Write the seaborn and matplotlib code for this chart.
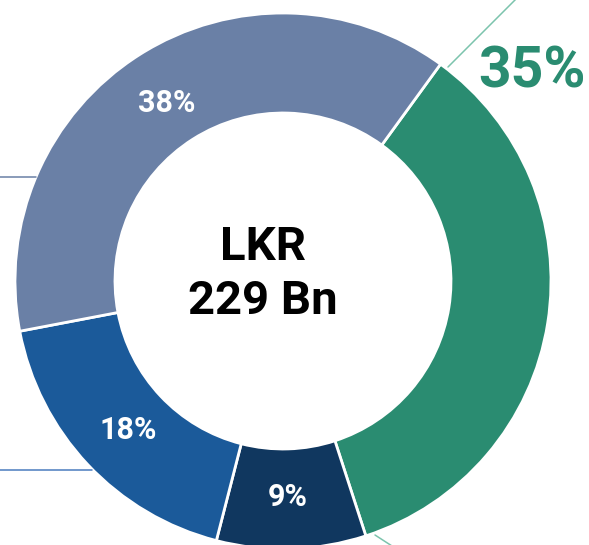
import matplotlib
matplotlib.use('Agg')
import matplotlib.pyplot as plt
import seaborn as sns

# donut data, clockwise from the top-right boundary
labels = ['35%', '9%', '18%', '38%']
shares = [35, 9, 18, 38]
colors = ['#2a8c71', '#10375f', '#1b5a9a', '#6a80a6']
total_text = 'LKR\n229 Bn'

sns.set_theme(style='white')
plt.rcParams['font.family'] = ['Roboto', 'DejaVu Sans']

fig = plt.figure(figsize=(5.89, 5.45), dpi=100)
ax = fig.add_axes([0, 0, 1, 1])
H = 545
# pixel-like coordinates: x right, y up
ax.pie(shares, colors=colors, startangle=54, counterclock=False,
       center=(283, H - 281), radius=268,
       wedgeprops=dict(width=100, edgecolor='white', linewidth=2))
ax.set_xlim(0, 589)
ax.set_ylim(0, H)
ax.set_aspect('equal')
ax.axis('off')

# leader line stubs
ax.plot([448, 517], [H - 67, H + 2], color='#7cc4ad', lw=1.1)
ax.plot([0, 36], [H - 177, H - 177], color='#6a80a6', lw=1.1)
ax.plot([0, 92], [H - 470, H - 470], color='#4a7cbf', lw=1.1)
ax.plot([375, 392], [H - 535, H - 546], color='#7cc4ad', lw=1.1)

# wedge labels
ax.text(532, H - 72, labels[0], color='#2a8c71', fontsize=41, fontweight='bold',
        ha='center', va='center')
ax.text(288, H - 497, labels[1], color='white', fontsize=22, fontweight='bold',
        ha='center', va='center')
ax.text(128, H - 430, labels[2], color='white', fontsize=22, fontweight='bold',
        ha='center', va='center')
ax.text(167, H - 103, labels[3], color='white', fontsize=22, fontweight='bold',
        ha='center', va='center')

ax.text(263, H - 274, total_text, color='black', fontsize=34, fontweight='bold',
        ha='center', va='center', linespacing=1.3)

fig.savefig('out.png', dpi=100)
